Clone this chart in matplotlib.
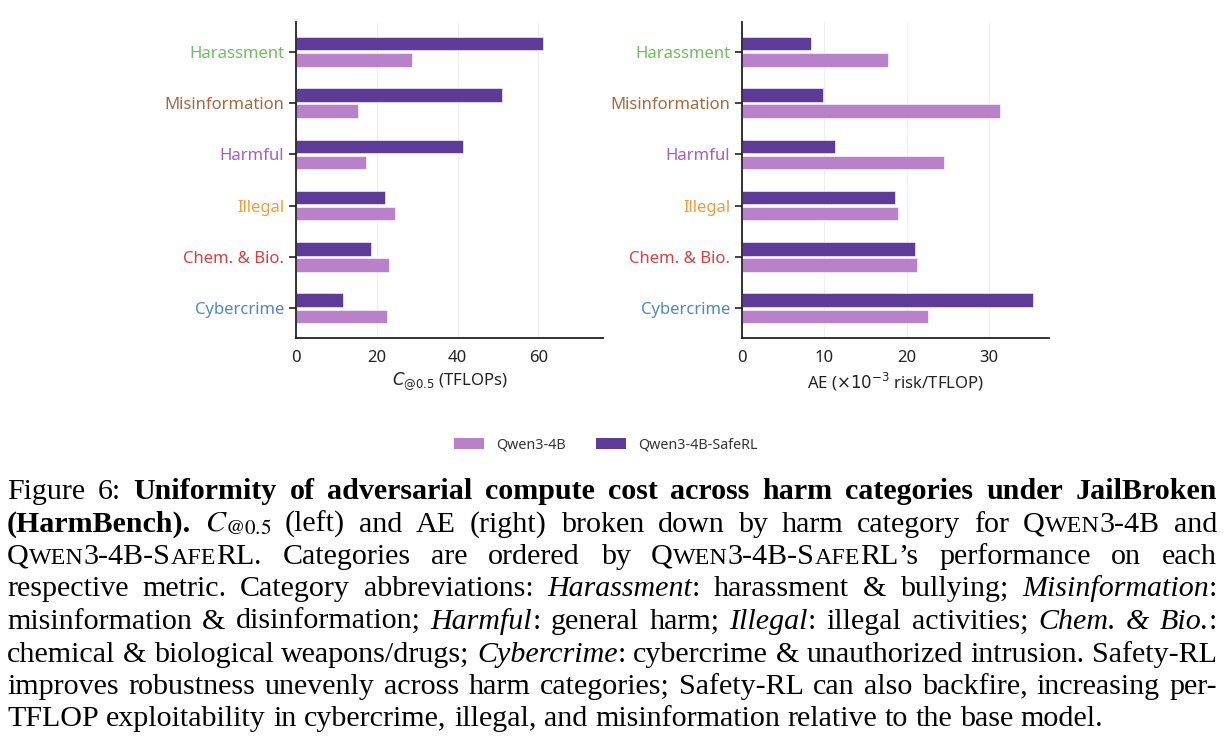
import numpy as np
import matplotlib.pyplot as plt
from matplotlib.patches import Patch

plt.rcParams['font.family'] = ['Noto Sans', 'DejaVu Sans']

# data
categories = ['Harassment', 'Misinformation', 'Harmful', 'Illegal', 'Chem. & Bio.', 'Cybercrime']
label_colors = ['#6cbf5c', '#a8683c', '#a75dc4', '#f59a3f', '#e03b3b', '#4d86c9']

c_base = [28.8, 15.4, 17.4, 24.4, 23.0, 22.5]
c_safe = [61.1, 51.0, 41.4, 22.1, 18.5, 11.7]
ae_base = [17.7, 31.3, 24.5, 19.0, 21.25, 22.6]
ae_safe = [8.4, 9.8, 11.25, 18.6, 21.0, 35.4]

models = ['Qwen3-4B', 'Qwen3-4B-SafeRL']
light = '#b981c9'
dark = '#5e3a99'

W, H = 1224, 754
fig = plt.figure(figsize=(W / 100, H / 100), dpi=100)

ax1 = fig.add_axes([296 / W, 1 - 338 / H, 307 / W, 316 / H])
ax2 = fig.add_axes([742 / W, 1 - 338 / H, 307 / W, 316 / H])


def panel(ax, base, safe, xmax, ticks, xlabel):
    y = np.arange(len(categories))
    ax.barh(y - 0.158, safe, height=0.262, color=dark, edgecolor='white', linewidth=0.4, zorder=2)
    ax.barh(y + 0.158, base, height=0.262, color=light, edgecolor='white', linewidth=0.4, zorder=2)
    ax.set_ylim(5.58, -0.58)
    ax.set_xlim(0, xmax)
    ax.set_xticks(ticks)
    ax.set_yticks(y)
    ax.set_yticklabels(categories)
    for lbl, c in zip(ax.get_yticklabels(), label_colors):
        lbl.set_color(c)
    ax.xaxis.grid(True, color='#efefef', linewidth=0.8, zorder=0)
    ax.set_axisbelow(True)
    for s in ['top', 'right']:
        ax.spines[s].set_visible(False)
    for s in ['left', 'bottom']:
        ax.spines[s].set_linewidth(1.3)
        ax.spines[s].set_color('#222222')
    ax.tick_params(axis='y', length=5, width=1.2, pad=3.4, labelsize=12, color='#222222')
    ax.tick_params(axis='x', length=0, pad=9, labelsize=12, labelcolor='#222222')
    ax.set_xlabel(xlabel, fontsize=12, color='#222222', labelpad=3)


panel(ax1, c_base, c_safe, 76, [0, 20, 40, 60], r'$C_{@0.5}$ (TFLOPs)')
panel(ax2, ae_base, ae_safe, 37.3, [0, 10, 20, 30], r'AE ($\times10^{-3}$ risk/TFLOP)')

handles = [Patch(facecolor=light, label=models[0]), Patch(facecolor=dark, label=models[1])]
leg = fig.legend(handles=handles, loc='center', bbox_to_anchor=(606 / W, 1 - 445 / H), ncol=2,
                 frameon=False, fontsize=10.3, handlelength=2.1, handleheight=0.85,
                 handletextpad=0.85, columnspacing=2.1)
for t in leg.get_texts():
    t.set_color('#333333')

# caption
CAP_FS = 21.6
serif = 'Liberation Serif'
STY = {
    'n': dict(family=serif, size=CAP_FS),
    'b': dict(family=serif, size=CAP_FS, weight='bold'),
    'i': dict(family=serif, size=CAP_FS, style='italic'),
    's': dict(family=serif, size=CAP_FS * 0.8),
    'm': dict(family=serif, size=CAP_FS, math_fontfamily='stix'),
}

caption = [
    [('n', 'Figure 6: '), ('b', 'Uniformity of adversarial compute cost across harm categories under JailBroken')],
    [('b', '(HarmBench).'), ('n', ' '), ('m', r'$C_{@0.5}$'),
     ('n', ' (left) and AE (right) broken down by harm category for '), ('sc', 'Qwen3-4B'), ('n', ' and')],
    [('sc', 'Qwen3-4B-SafeRL'), ('n', '. Categories are ordered by '), ('sc', 'Qwen3-4B-SafeRL'),
     ('n', '\u2019s performance on each')],
    [('n', 'respective metric. Category abbreviations: '), ('i', 'Harassment'),
     ('n', ': harassment & bullying; '), ('i', 'Misinformation'), ('n', ':')],
    [('n', 'misinformation & disinformation; '), ('i', 'Harmful'), ('n', ': general harm; '),
     ('i', 'Illegal'), ('n', ': illegal activities; '), ('i', 'Chem. & Bio.'), ('n', ':')],
    [('n', 'chemical & biological weapons/drugs; '), ('i', 'Cybercrime'),
     ('n', ': cybercrime & unauthorized intrusion. Safety-RL')],
    [('n', 'improves robustness unevenly across harm categories; Safety-RL can also backfire, increasing per-')],
    [('n', 'TFLOP exploitability in cybercrime, illegal, and misinformation relative to the base model.')],
]


def smallcaps(txt):
    out = []
    for ch in txt:
        st = 's' if ch.islower() else 'n'
        ch = ch.upper()
        if out and out[-1][0] == st:
            out[-1] = (st, out[-1][1] + ch)
        else:
            out.append((st, ch))
    return out


def words_of(runs):
    words = [[]]
    for st, txt in runs:
        if st == 'm':
            words[-1].append((st, txt))
            continue
        parts = txt.split(' ')
        for k, p in enumerate(parts):
            if k > 0:
                words.append([])
            if p:
                if st == 'sc':
                    words[-1].extend(smallcaps(p))
                else:
                    words[-1].append((st, p))
    return [w for w in words if w]


renderer = fig.canvas.get_renderer()


def width(st, s):
    t = fig.text(0, 0, s, **STY[st])
    w = t.get_window_extent(renderer).width
    t.remove()
    return w


space = width('n', 'a a') - width('n', 'aa')
x_left, x_right = 7, 1217
for k, runs in enumerate(caption):
    base_y = 1 - (499 + 32.5 * k) / H
    words = words_of(runs)
    widths = [[width(st, s) for st, s in w] for w in words]
    total = sum(sum(w) for w in widths)
    if k < len(caption) - 1 and len(words) > 1:
        gap = max((x_right - x_left - total) / (len(words) - 1), 0.5 * space)
    else:
        gap = space
    x = x_left
    for w, ws in zip(words, widths):
        for (st, s), wd in zip(w, ws):
            fig.text(x / W, base_y, s, va='baseline', ha='left', color='black', **STY[st])
            x += wd
        x += gap

fig.savefig('out.png', dpi=100)
